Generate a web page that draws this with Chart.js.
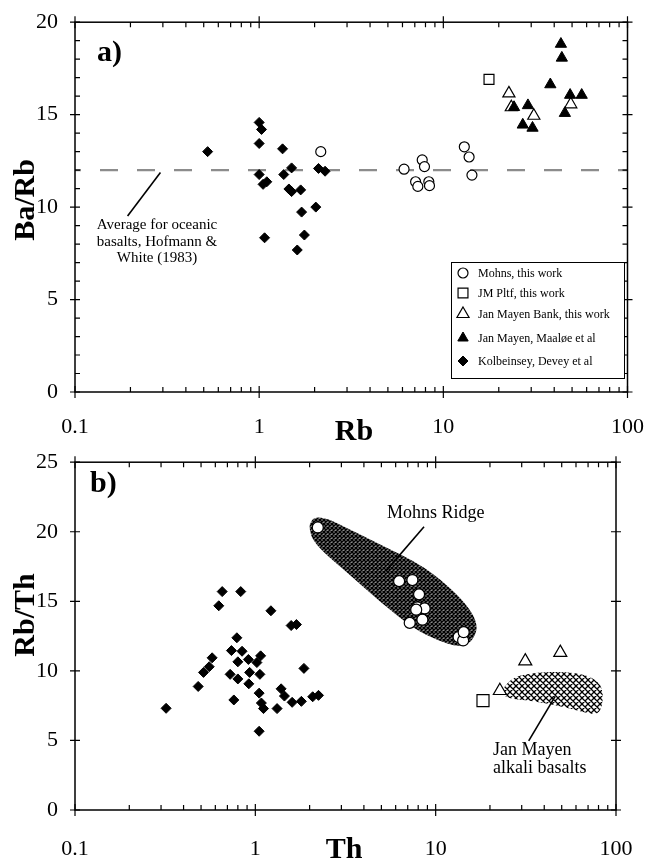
<!DOCTYPE html>
<html>
<head>
<meta charset="utf-8">
<script src="https://cdn.jsdelivr.net/npm/chart.js@4.4.0/dist/chart.umd.min.js"></script>
<style>
  html,body{margin:0;padding:0;background:#fff}
  #wrap{position:relative;width:658px;height:868px}
  canvas{position:absolute;left:0}
</style>
</head>
<body>
<div id="wrap">
  <canvas id="chartA" width="658" height="450" style="top:0"></canvas>
  <canvas id="chartB" width="658" height="428" style="top:440px"></canvas>
</div>
<script>
// ---- panel a: Ba/Rb vs Rb ----
const mohnsA = [[2.16,13.0],[6.12,12.05],[7.68,12.55],[7.90,12.19],[7.07,11.37],[7.27,11.12],[8.34,11.37],[8.41,11.16],[13.0,13.26],[13.8,12.71],[14.3,11.73]];
const jmPltfA = [[17.7,16.91]];
const jmBankA = [[22.7,16.15],[23.4,15.4],[31.0,14.94],[49.2,15.56]];
const maaloeA = [[24.2,15.4],[28.8,15.5],[27.0,14.45],[30.5,14.28],[38.1,16.63],[43.5,18.82],[44.0,18.07],[48.8,16.06],[56.4,16.06],[45.7,15.08]];
const kolbA = [[0.525,13.0],[1.0,14.58],[1.03,14.2],[1.0,13.44],[1.34,13.15],[1.50,12.12],[2.10,12.09],[2.28,11.94],[1.0,11.76],[1.36,11.76],[1.10,11.37],[1.05,11.23],[1.50,10.84],[1.45,10.98],[1.68,10.93],[1.70,9.73],[2.03,10.0],[1.07,8.34],[1.76,8.49],[1.61,7.68]];
const oceanAvg = 12;
const oceanLeader = [[0.291,11.87],[0.193,9.52]];

// ---- panel b: Rb/Th vs Th ----
const kolbB = [[0.655,15.70],[0.83,15.70],[0.627,14.68],[1.22,14.32],[1.58,13.26],[1.69,13.33],[0.79,12.38],[0.737,11.46],[0.844,11.41],[0.576,10.94],[0.80,10.65],[0.915,10.82],[1.07,11.08],[1.02,10.60],[0.555,10.30],[0.516,9.89],[0.725,9.75],[0.93,9.89],[1.06,9.75],[0.80,9.42],[0.92,9.07],[1.86,10.18],[0.482,8.88],[1.05,8.40],[1.39,8.71],[1.45,8.19],[1.60,7.74],[1.80,7.81],[2.08,8.14],[2.24,8.24],[0.76,7.91],[1.08,7.69],[1.11,7.29],[1.32,7.29],[0.32,7.31],[1.05,5.66]];
const mohnsB = [[2.22,20.31],[6.27,16.45],[7.43,16.53],[8.09,15.50],[7.92,14.56],[8.69,14.49],[7.8,14.4],[8.44,13.68],[7.18,13.45],[13.4,12.43],[14.2,12.19],[14.3,12.78]];
const jmBankB = [[31.4,10.70],[49.1,11.31],[22.7,8.57]];
const jmPltfB = [[18.3,7.86]];
const mohnsField = [[2.0,20.6],[2.13,21.07],[2.52,20.95],[3.25,20.24],[4.19,19.53],[5.64,18.70],[7.59,17.88],[9.79,16.93],[13.2,15.50],[15.95,14.20],[17.0,13.26],[16.6,12.55],[15.3,11.95],[13.2,11.72],[10.2,12.20],[7.59,13.02],[4.97,14.91],[3.25,17.05],[2.41,18.47],[2.08,19.41],[2.0,20.12]];
const janMayenField = [[23.4,8.71],[27.1,9.59],[36.5,9.89],[51.2,9.94],[68.9,9.71],[81.6,9.11],[85.1,8.29],[83.4,7.34],[78.2,6.82],[63.3,7.10],[47.0,7.53],[33.5,7.86],[25.9,8.00],[23.4,8.29]];
const mohnsLeader = [[8.62,20.36],[5.29,17.17]];
const janMayenLeader = [[46.0,8.17],[32.8,4.97]];

const xTicks = [0.1, 1, 10, 100];
const serif = '"Liberation Serif", "DejaVu Serif", serif';

const pts = arr => arr.map(([x,y]) => ({x, y}));

function hatch(size, lw, bg) {
  const c = document.createElement('canvas');
  c.width = c.height = size;
  const g = c.getContext('2d');
  g.fillStyle = bg; g.fillRect(0,0,size,size);
  g.strokeStyle = '#000'; g.lineWidth = lw;
  g.beginPath();
  for (const dx of [-size, 0, size]) {
    g.moveTo(dx, 0); g.lineTo(dx+size, size);
    g.moveTo(dx+size, 0); g.lineTo(dx, size);
  }
  g.stroke();
  return g.createPattern(c, 'repeat');
}

function smoothPath(ctx, p) {
  const n = p.length, mid = (a,b) => [(a[0]+b[0])/2, (a[1]+b[1])/2];
  let m = mid(p[n-1], p[0]);
  ctx.moveTo(m[0], m[1]);
  for (let i = 0; i < n; i++) {
    const q = mid(p[i], p[(i+1)%n]);
    ctx.quadraticCurveTo(p[i][0], p[i][1], q[0], q[1]);
  }
  ctx.closePath();
}

// frame with inward minor ticks and crossing major ticks
function framePlugin(yMinor) {
  return {
    id: 'frame',
    afterDraw(chart) {
      const {ctx, chartArea: a, scales: {x, y}} = chart;
      ctx.save();
      ctx.strokeStyle = '#000';
      ctx.lineWidth = 1.5;
      ctx.strokeRect(a.left, a.top, a.right - a.left, a.bottom - a.top);
      ctx.lineWidth = 1.2;
      ctx.beginPath();
      for (let d = 0.1; d < 100; d *= 10) {
        for (let k = 2; k <= 9; k++) {
          const px = x.getPixelForValue(d*k);
          ctx.moveTo(px, a.bottom); ctx.lineTo(px, a.bottom - 5);
          ctx.moveTo(px, a.top); ctx.lineTo(px, a.top + 5);
        }
      }
      xTicks.forEach(v => {
        const px = x.getPixelForValue(v);
        ctx.moveTo(px, a.bottom - 6); ctx.lineTo(px, a.bottom + 6);
        ctx.moveTo(px, a.top - 6); ctx.lineTo(px, a.top + 6);
      });
      for (let v = y.min; v <= y.max; v += 1) {
        const py = y.getPixelForValue(v);
        if (v % 5 === 0) {
          ctx.moveTo(a.left - 5, py); ctx.lineTo(a.left + 5, py);
          ctx.moveTo(a.right - 5, py); ctx.lineTo(a.right + 5, py);
        } else if (yMinor) {
          ctx.moveTo(a.left, py); ctx.lineTo(a.left + 5, py);
          ctx.moveTo(a.right, py); ctx.lineTo(a.right - 5, py);
        }
      }
      ctx.stroke();
      ctx.restore();
    }
  };
}

function textPlugin(draw) {
  return { id: 'labels', afterDraw(chart) { const ctx = chart.ctx; ctx.save(); ctx.fillStyle = '#000'; draw(ctx, chart); ctx.restore(); } };
}

function fieldPlugin(fields) {
  return {
    id: 'fields',
    beforeDatasetsDraw(chart) {
      const {ctx, scales: {x, y}} = chart;
      fields.forEach(f => {
        const p = f.data.map(([vx, vy]) => [x.getPixelForValue(vx), y.getPixelForValue(vy)]);
        ctx.save();
        ctx.beginPath();
        smoothPath(ctx, p);
        ctx.fillStyle = f.fill;
        ctx.fill();
        ctx.restore();
      });
    }
  };
}

function baseOptions(yMax, right) {
  return {
    responsive: false,
    animation: false,
    events: [],
    layout: { padding: { left: 0, top: 18, right: right, bottom: 0 } },
    plugins: { legend: { display: false }, tooltip: { enabled: false } },
    scales: {
      x: {
        type: 'logarithmic', min: 0.1, max: 100,
        grid: { display: false }, border: { display: false },
        afterBuildTicks: s => { s.ticks = xTicks.map(v => ({value: v})); },
        afterFit: s => { s.height = 58; },
        ticks: { autoSkip: false, maxRotation: 0, padding: 14, color: '#000',
                 font: { family: serif, size: 22 }, callback: v => String(v) }
      },
      y: {
        min: 0, max: yMax,
        grid: { display: false }, border: { display: false },
        afterFit: s => { s.width = 75; },
        ticks: { stepSize: 5, padding: 9, color: '#000', font: { family: serif, size: 22 } }
      }
    }
  };
}

const blackDiamond = { pointStyle: 'rectRot', pointRadius: 5, backgroundColor: '#000', borderColor: '#000', borderWidth: 1 };
const openCircle = r => ({ pointStyle: 'circle', pointRadius: r, backgroundColor: '#fff', borderColor: '#000', borderWidth: 1.2 });
const openTri = r => ({ pointStyle: 'triangle', pointRadius: r, backgroundColor: '#fff', borderColor: '#000', borderWidth: 1.2 });
const openSquare = r => ({ pointStyle: 'rect', pointRadius: r, backgroundColor: '#fff', borderColor: '#000', borderWidth: 1.2 });
const leader = d => ({ data: pts(d), showLine: true, pointRadius: 0, borderColor: '#000', borderWidth: 1.6 });

// ---------- chart a ----------
const optA = baseOptions(20, 24);
new Chart(document.getElementById('chartA'), {
  type: 'scatter',
  data: { datasets: [
    { label: 'Jan Mayen, Maaløe et al', data: pts(maaloeA), pointStyle: 'triangle', pointRadius: 6.5, backgroundColor: '#000', borderColor: '#000', borderWidth: 1 },
    { label: 'Jan Mayen Bank, this work', data: pts(jmBankA), ...openTri(7) },
    { label: 'JM Pltf, this work', data: pts(jmPltfA), ...openSquare(7) },
    { label: 'Mohns, this work', data: pts(mohnsA), ...openCircle(5) },
    { label: 'Kolbeinsey, Devey et al', data: pts(kolbA), ...blackDiamond },
    leader(oceanLeader),
    { data: [{x: 0.1, y: oceanAvg}, {x: 100, y: oceanAvg}], showLine: true, pointRadius: 0,
      borderColor: '#8c8c8c', borderWidth: 2.4, borderDash: [18, 19], borderDashOffset: 12 }
  ]},
  options: optA,
  plugins: [framePlugin(true), textPlugin((ctx, chart) => {
    ctx.font = 'bold 30px ' + serif;
    ctx.textBaseline = 'middle';
    ctx.textAlign = 'left';
    ctx.fillText('a)', 97, 53);
    ctx.textAlign = 'center';
    ctx.fillText('Rb', 354, 432);
    ctx.save();
    ctx.translate(26, 200);
    ctx.rotate(-Math.PI/2);
    ctx.fillText('Ba/Rb', 0, 0);
    ctx.restore();
    ctx.font = '15px ' + serif;
    ctx.fillText('Average for oceanic', 157, 225);
    ctx.fillText('basalts, Hofmann &', 157, 242);
    ctx.fillText('White (1983)', 157, 258);
    // legend box
    ctx.fillStyle = '#fff';
    ctx.fillRect(451, 262, 173, 116);
    ctx.strokeStyle = '#000';
    ctx.lineWidth = 1;
    ctx.strokeRect(451.5, 262.5, 173, 116);
    const rows = [
      ['Mohns, this work', openCircle(5), 273],
      ['JM Pltf, this work', openSquare(7), 293],
      ['Jan Mayen Bank, this work', openTri(7), 314],
      ['Jan Mayen, Maaløe et al', { pointStyle: 'triangle', pointRadius: 6, backgroundColor: '#000', borderColor: '#000', borderWidth: 1 }, 338],
      ['Kolbeinsey, Devey et al', blackDiamond, 361]
    ];
    ctx.font = '12px ' + serif;
    ctx.textAlign = 'left';
    rows.forEach(([t, s, yy]) => {
      ctx.fillStyle = s.backgroundColor; ctx.strokeStyle = s.borderColor; ctx.lineWidth = s.borderWidth;
      Chart.helpers.drawPoint(ctx, { pointStyle: s.pointStyle, radius: s.pointRadius, rotation: 0, borderWidth: s.borderWidth }, 463, yy);
      ctx.fillStyle = '#000';
      ctx.fillText(t, 478, yy + 1);
    });
  })]
});

// ---------- chart b ----------
const optB = baseOptions(25, 42);
optB.scales.x.ticks.padding = 18;
new Chart(document.getElementById('chartB'), {
  type: 'scatter',
  data: { datasets: [
    { label: 'Mohns', data: pts(mohnsB), ...openCircle(5.5) },
    { label: 'Jan Mayen Bank', data: pts(jmBankB), ...openTri(7.5) },
    { label: 'JM Pltf', data: pts(jmPltfB), ...openSquare(8.5) },
    { label: 'Kolbeinsey', data: pts(kolbB), ...blackDiamond },
    leader(mohnsLeader),
    leader(janMayenLeader)
  ]},
  options: optB,
  plugins: [
    fieldPlugin([
      { data: mohnsField, fill: hatch(4, 1.4, '#8a8a8a') },
      { data: janMayenField, fill: hatch(6, 1.3, '#fff') }
    ]),
    framePlugin(false),
    textPlugin(ctx => {
      ctx.font = 'bold 30px ' + serif;
      ctx.textBaseline = 'middle';
      ctx.textAlign = 'left';
      ctx.fillText('b)', 90, 44);
      ctx.textAlign = 'center';
      ctx.fillText('Th', 344, 410);
      ctx.save();
      ctx.translate(26, 175);
      ctx.rotate(-Math.PI/2);
      ctx.fillText('Rb/Th', 0, 0);
      ctx.restore();
      ctx.font = '18px ' + serif;
      ctx.textAlign = 'left';
      ctx.fillText('Mohns Ridge', 387, 73);
      ctx.fillText('Jan Mayen', 493, 310);
      ctx.fillText('alkali basalts', 493, 328);
    })
  ]
});
</script>
</body>
</html>
